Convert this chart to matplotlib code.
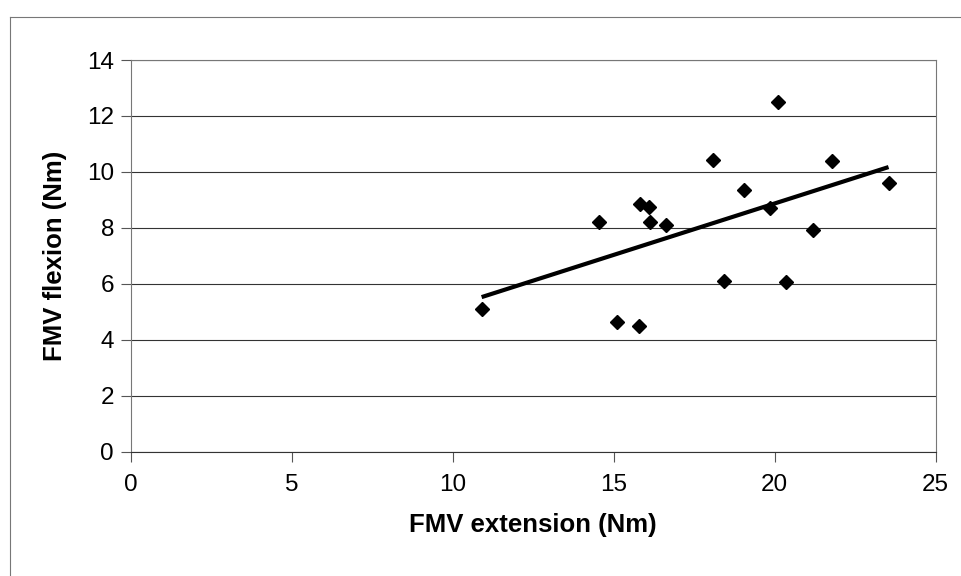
import numpy as np
import matplotlib
matplotlib.use("Agg")
import matplotlib.pyplot as plt
from matplotlib.lines import Line2D

# FMV extension vs flexion (Nm)
extension = [10.90, 14.54, 15.10, 15.78, 15.82, 16.09, 16.14, 16.63, 18.10,
             18.43, 19.05, 19.86, 20.10, 20.36, 21.18, 21.79, 23.54]
flexion = [5.09, 8.21, 4.64, 4.50, 8.87, 8.73, 8.21, 8.10, 10.42,
           6.10, 9.35, 8.71, 12.49, 6.05, 7.92, 10.38, 9.60]

x_ticks = [0, 5, 10, 15, 20, 25]
y_ticks = [0, 2, 4, 6, 8, 10, 12, 14]

plt.rcParams['font.family'] = ['Liberation Sans', 'DejaVu Sans']

fig = plt.figure(figsize=(9.62, 5.76), dpi=100)
ax = fig.add_axes([0.1359, 0.2158, 0.8366, 0.6800])

# linear trend line over the data range
k, b = np.polyfit(extension, flexion, 1)
xs = np.array([min(extension), max(extension)])
ax.plot(xs, k * xs + b, color='black', lw=3, solid_capstyle='butt', zorder=3)

ax.plot(extension, flexion, 'D', color='black', ms=6.7, zorder=4)

ax.set_xlim(0, 25)
ax.set_ylim(0, 14)
ax.set_xticks(x_ticks)
ax.set_yticks(y_ticks)
ax.tick_params(labelsize=17.5, length=7, width=0.8, color='#555555', pad=5)
ax.tick_params(axis='x', pad=9)
ax.grid(axis='y', color='#333333', lw=0.8)
ax.set_axisbelow(True)
for s in ax.spines.values():
    s.set_color('#777777')
    s.set_linewidth(0.8)
ax.spines['bottom'].set_color('#333333')

ax.set_xlabel('FMV extension (Nm)', fontsize=18.5, fontweight='bold', labelpad=12)
ax.set_ylabel('FMV flexion (Nm)', fontsize=18.5, fontweight='bold', labelpad=14)

# outer chart frame (left and top edges)
fig.add_artist(Line2D([10 / 962, 10 / 962], [1 - 17 / 576, 0.0], color='#777777', lw=0.8))
fig.add_artist(Line2D([10 / 962, 1.0], [1 - 17 / 576, 1 - 17 / 576], color='#777777', lw=0.8))

plt.savefig('out.png')
